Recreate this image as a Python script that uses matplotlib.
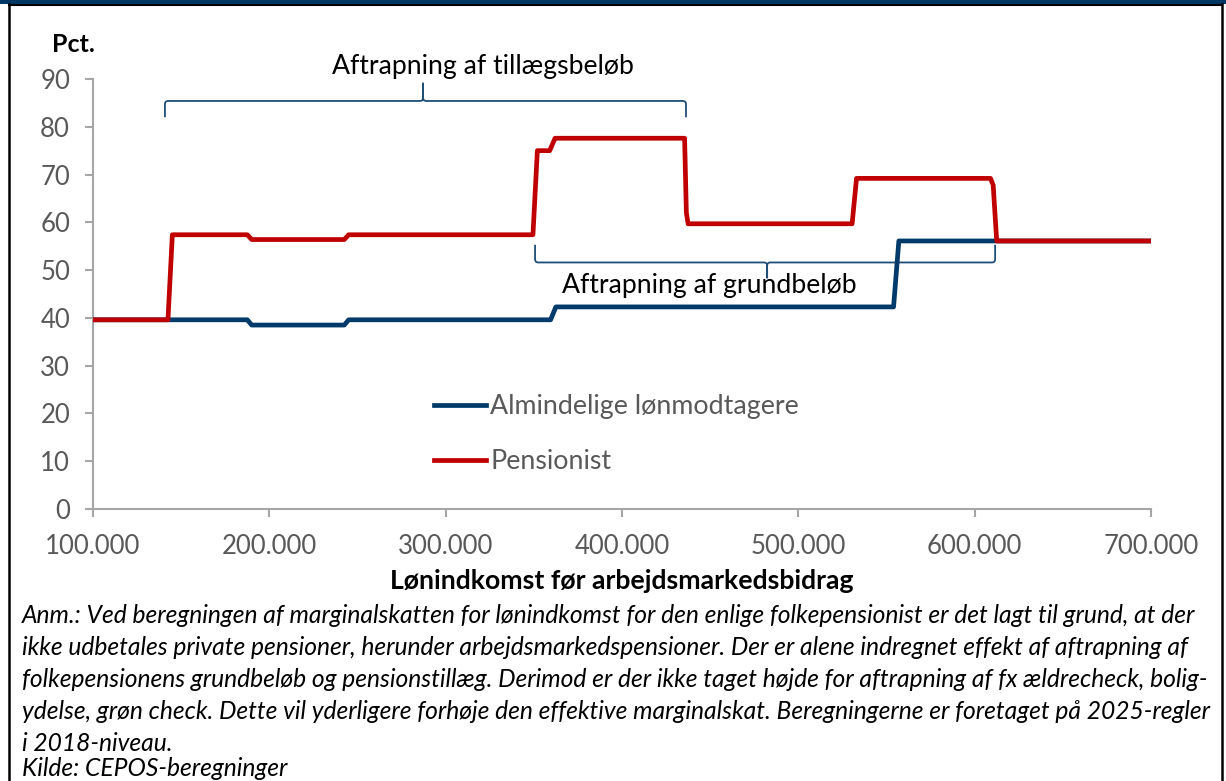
import matplotlib
matplotlib.use("Agg")
import matplotlib.pyplot as plt
from matplotlib.path import Path
from matplotlib.patches import PathPatch, Rectangle
from matplotlib.lines import Line2D
from matplotlib.ticker import FuncFormatter

plt.rcParams['font.family'] = ['Lato', 'DejaVu Sans']

# ---- data ----
pens_x = [100000, 142500, 145000, 187500, 190000, 242500, 245000, 349500, 352000,
          359000, 362000, 435500, 436500, 437500, 530500, 533000, 609000, 610500,
          612500, 700000]
pens_y = [39.6, 39.6, 57.4, 57.4, 56.4, 56.4, 57.4, 57.4, 75.0,
          75.0, 77.6, 77.6, 62.0, 59.7, 59.7, 69.2, 69.2, 67.8,
          56.1, 56.1]

alm_x = [100000, 187500, 190000, 242500, 245000, 359500, 362500, 554000, 557000, 700000]
alm_y = [39.6, 39.6, 38.5, 38.5, 39.6, 39.6, 42.3, 42.3, 56.1, 56.1]

series_labels = ["Almindelige lønmodtagere", "Pensionist"]
x_ticks = [100000, 200000, 300000, 400000, 500000, 600000, 700000]
y_ticks = [0, 10, 20, 30, 40, 50, 60, 70, 80, 90]

brace_top = dict(x0=140800, x1=436300, xm=287200, yend=82.0, yh=85.4, ytip=89.2)
brace_bot = dict(x0=350700, x1=611600, xm=482300, yend=55.3, yh=51.6, ytip=48.3)

note = ("Anm.: Ved beregningen af marginalskatten for lønindkomst for den enlige folkepensionist er det lagt til grund, at der\n"
        "ikke udbetales private pensioner, herunder arbejdsmarkedspensioner. Der er alene indregnet effekt af aftrapning af\n"
        "folkepensionens grundbeløb og pensionstillæg. Derimod er der ikke taget højde for aftrapning af fx ældrecheck, bolig-\n"
        "ydelse, grøn check. Dette vil yderligere forhøje den effektive marginalskat. Beregningerne er foretaget på 2025-regler\n"
        "i 2018-niveau.")
source = "Kilde: CEPOS-beregninger"

BLUE = "#003A6A"
RED = "#C00000"
GRAY = "#595959"
AXGRAY = "#A6A6A6"
BRACE = "#1F4E79"

W, H = 1226, 781
fig = plt.figure(figsize=(W / 100, H / 100), dpi=100)
ax = fig.add_axes([93 / W, 1 - 509 / H, (1151 - 93) / W, (509 - 79) / H])

ax.plot(alm_x, alm_y, color=BLUE, lw=3.4, solid_joinstyle='round', solid_capstyle='butt', zorder=3)
ax.plot(pens_x, pens_y, color=RED, lw=3.4, solid_joinstyle='round', solid_capstyle='butt', zorder=4)

ax.set_xlim(100000, 700000)
ax.set_ylim(0, 90)
ax.set_xticks(x_ticks)
ax.set_yticks(y_ticks)
ax.xaxis.set_major_formatter(FuncFormatter(lambda v, p: f"{int(v):,}".replace(",", ".")))
for s in ['top', 'right']:
    ax.spines[s].set_visible(False)
for s in ['left', 'bottom']:
    ax.spines[s].set_color(AXGRAY)
    ax.spines[s].set_linewidth(1.5)
ax.tick_params(axis='both', colors=AXGRAY, labelcolor=GRAY, labelsize=18.5, length=5.5, width=1.5, direction='out')
ax.tick_params(axis='y', pad=11)
ax.tick_params(axis='x', pad=12.5)


def brace(d, up=True):
    x0, x1, xm, ye, yh, yt = d['x0'], d['x1'], d['xm'], d['yend'], d['yh'], d['ytip']
    rx = 1800
    ry = 0.7 if up else -0.7
    verts = [(x0, ye), (x0, yh - ry), (x0, yh), (x0 + rx, yh), (xm - rx, yh), (xm, yh), (xm, yh + ry), (xm, yt),
             (xm, yh + ry), (xm, yh), (xm + rx, yh), (x1 - rx, yh), (x1, yh), (x1, yh - ry), (x1, ye)]
    codes = [Path.MOVETO, Path.LINETO, Path.CURVE3, Path.CURVE3, Path.LINETO, Path.CURVE3, Path.CURVE3, Path.LINETO,
             Path.LINETO, Path.CURVE3, Path.CURVE3, Path.LINETO, Path.CURVE3, Path.CURVE3, Path.LINETO]
    p = PathPatch(Path(verts, codes), facecolor='none', edgecolor=BRACE, lw=1.3, clip_on=False, zorder=2)
    ax.add_patch(p)


brace(brace_top, up=True)
brace(brace_bot, up=False)

ax.text(321200, 92.7, "Aftrapning af tillægsbeløb", ha='center', va='center', fontsize=19.2, color='black', clip_on=False)
ax.text(449400, 46.7, "Aftrapning af grundbeløb", ha='center', va='center', fontsize=19.2, color='black')

handles = [Line2D([], [], color=BLUE, lw=3.4), Line2D([], [], color=RED, lw=3.4)]
leg = fig.legend(handles, series_labels, loc='upper left', bbox_to_anchor=(434 / W, 1 - 394 / H),
                 frameon=False, fontsize=19.3, handlelength=1.95, handletextpad=0.15, labelspacing=1.12,
                 borderpad=0, borderaxespad=0)
for t in leg.get_texts():
    t.set_color(GRAY)

fig.text(52 / W, 1 - 44 / H, "Pct.", fontsize=18, fontweight='bold', ha='left', va='center')
fig.text(622 / W, 1 - 581 / H, "Lønindkomst før arbejdsmarkedsbidrag", fontsize=19.2, fontweight='bold',
         ha='center', va='center')
fig.text(22 / W, 1 - 604 / H, note, fontsize=17.7, fontstyle='italic', ha='left', va='top', linespacing=1.47)
fig.text(22 / W, 0.5 / H, source, fontsize=17.7, fontstyle='italic', ha='left', va='bottom')

# frame
fig.add_artist(Rectangle((0, 1 - 4 / H), 1, 4 / H, transform=fig.transFigure, facecolor='#003865', edgecolor='none'))
fig.add_artist(Line2D([9 / W, 9 / W], [0, 1 - 4 / H], transform=fig.transFigure, color='black', lw=1.8))
fig.add_artist(Line2D([1222 / W, 1222 / W], [0, 1 - 4 / H], transform=fig.transFigure, color='black', lw=1.8))
fig.add_artist(Line2D([9 / W, 1222 / W], [1 - 4.5 / H, 1 - 4.5 / H], transform=fig.transFigure, color='black', lw=1.5))

fig.savefig("out.png", dpi=100)
